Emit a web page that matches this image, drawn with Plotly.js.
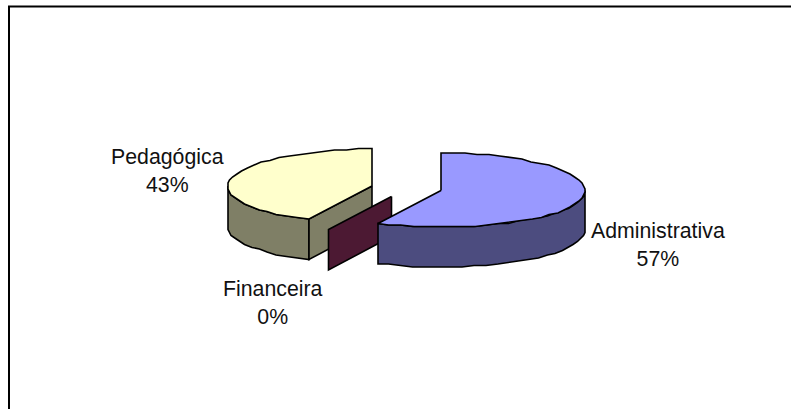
<!DOCTYPE html>
<html>
<head>
<meta charset="utf-8">
<script src="https://cdn.plot.ly/plotly-3.0.1.min.js"></script>
<style>html,body{margin:0;padding:0;background:#fff;overflow:hidden}#chart{width:791px;height:409px}</style>
</head>
<body>
<div id="chart"></div>
<script>
// Share of each area, clockwise from twelve o'clock
const categories = ['Administrativa', 'Financeira', 'Pedagógica'];
const shares = [57, 0, 43];
const topColors = ['#9999FF', '#993366', '#FFFFCC'];
const wallColors = ['#4C4C7F', '#4C1933', '#7F7F66'];
const labelX = [657.5, 273, 167.5];
const labelY = [245, 303, 171];

// Oblique projection of the exploded disc; the front half is slightly wider
const centre = {x: 406, y: 188};
const rx = 144, ry = 37, depth = 40, explode = 0.245, widen = 0.03;
const grid = 1.5;
const outline = {color: '#000', width: 1.6};

const rad = d => d * Math.PI / 180;
const snap = v => Math.round(v / grid) * grid;
const onRim = (c, a, dz = 0) => ({
  x: snap(c.x + rx * Math.sin(rad(a)) * (1 + widen * Math.max(0, -Math.cos(rad(a))))),
  y: snap(c.y - ry * Math.cos(rad(a)) + dz)
});

function arc(c, from, to, dz = 0) {
  const n = Math.max(1, Math.ceil(Math.abs(to - from) / 5));
  const pts = [];
  for (let i = 0; i <= n; i++) pts.push(onRim(c, from + (to - from) * i / n, dz));
  return pts;
}

function poly(pts, fill) {
  return {
    type: 'scatter', mode: 'lines', fill: 'toself', fillcolor: fill,
    x: pts.map(p => p.x).concat(pts[0].x),
    y: pts.map(p => p.y).concat(pts[0].y),
    line: outline, hoverinfo: 'skip', showlegend: false
  };
}

// Work out each slice's angles and exploded centre from its share
const total = shares.reduce((a, b) => a + b, 0);
let start = 0;
const slices = shares.map((s, i) => {
  const sweep = s / total * 360, mid = start + sweep / 2;
  const c = {
    x: centre.x + explode * rx * Math.sin(rad(mid)),
    y: centre.y - explode * ry * Math.cos(rad(mid))
  };
  const slice = {i, from: start, to: start + sweep, c};
  start += sweep;
  return slice;
});

// The wall is only seen where the rim faces the viewer (90° to 270°)
function sliceTraces(sl) {
  const out = [];
  const c = {x: snap(sl.c.x), y: snap(sl.c.y)};
  const wallFrom = Math.max(sl.from, 90), wallTo = Math.min(sl.to, 270);
  if (wallTo > wallFrom) {
    const upper = arc(sl.c, wallFrom, wallTo);
    const lower = arc(sl.c, wallTo, wallFrom, depth);
    out.push(poly(upper.concat(lower), wallColors[sl.i]));
  }
  // Cut face turned towards the viewer, on the slice's starting edge
  if (sl.from > 90 && sl.from < 270) {
    const e = onRim(sl.c, sl.from), ed = onRim(sl.c, sl.from, depth);
    out.push(poly([c, e, ed, {x: c.x, y: c.y + depth}], wallColors[sl.i]));
  }
  if (sl.to > sl.from) {
    const pts = [c].concat(arc(sl.c, sl.from, sl.to));
    out.push(poly(pts, topColors[sl.i]));
  }
  return out;
}

// Paint back to front: left slice, the empty slice's blade, right slice
const traces = [slices[2], slices[1], slices[0]].flatMap(sliceTraces);

const annotations = categories.map((name, i) => ({
  x: labelX[i], y: labelY[i], xref: 'x', yref: 'y',
  text: name + '<br>' + shares[i] + '%',
  showarrow: false, align: 'center', xanchor: 'center', yanchor: 'middle',
  font: {family: 'Liberation Sans, Arial, sans-serif', size: 21.3, color: '#111'}
}));

const hidden = {visible: false, fixedrange: true};
const layout = {
  width: 791, height: 409,
  margin: {l: 0, r: 0, t: 0, b: 0},
  paper_bgcolor: '#fff', plot_bgcolor: '#fff',
  xaxis: Object.assign({range: [0, 791]}, hidden),
  yaxis: Object.assign({range: [409, 0]}, hidden),
  showlegend: false,
  annotations,
  shapes: [
    {type: 'line', xref: 'x', yref: 'y', x0: 8, x1: 791, y0: 6.5, y1: 6.5, line: {color: '#000', width: 2}},
    {type: 'line', xref: 'x', yref: 'y', x0: 9, x1: 9, y0: 6, y1: 409, line: {color: '#000', width: 2}}
  ]
};

Plotly.newPlot('chart', traces, layout, {displayModeBar: false, staticPlot: true});
</script>
</body>
</html>
